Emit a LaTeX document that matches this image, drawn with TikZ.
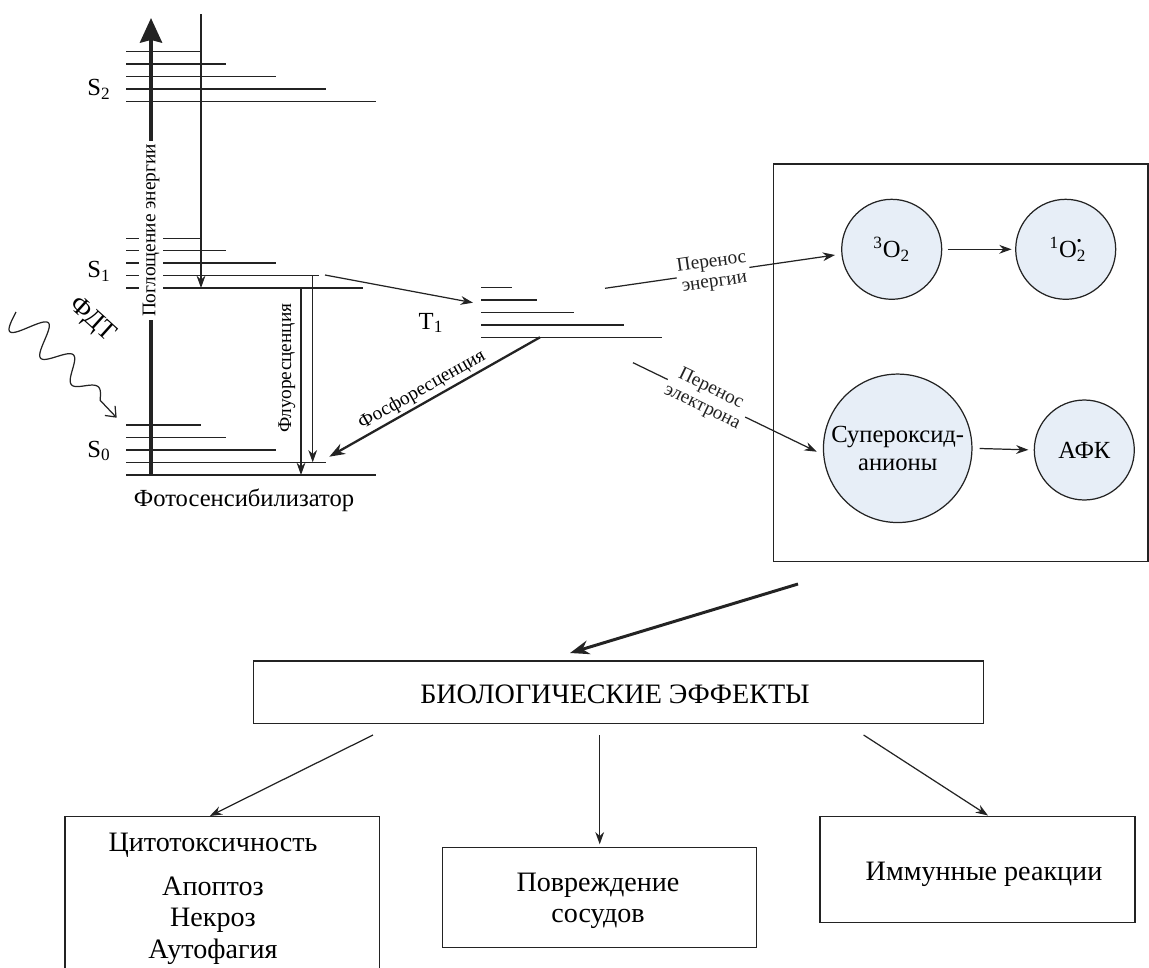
\documentclass[tikz,border=0pt]{standalone}
\usepackage{fontspec}
\setmainfont{Liberation Serif}
\usetikzlibrary{arrows.meta,calc}
\definecolor{circfill}{RGB}{231,238,247}
\definecolor{ln}{RGB}{35,35,35}
\begin{document}
\begin{tikzpicture}[x=0.02cm,y=-0.02cm,
  lvl/.style={ln, line width=0.8pt},
  conn/.style={ln, line width=0.7pt, -{Stealth[length=7pt,width=5pt]}},
  thickconn/.style={ln, line width=1.3pt, -{Stealth[length=9pt,width=6.5pt]}},
  bigconn/.style={ln, line width=1.7pt, -{Stealth[length=11pt,width=8pt]}},
  circ/.style={circle, draw=ln, line width=0.7pt, fill=circfill, inner sep=0pt, align=center, font=\fontsize{14}{16}\selectfont},
  smalllbl/.style={font=\fontsize{11}{11.5}\selectfont, align=center, inner sep=1pt},
  mainlbl/.style={font=\fontsize{14}{16}\selectfont, inner sep=0pt},
  boxtxt/.style={font=\fontsize{16}{19}\selectfont, inner sep=0pt, anchor=base},
  rbox/.style={draw=ln, line width=0.8pt, anchor=north west, inner sep=0pt, outer sep=0pt}
]
\useasboundingbox (0,0) rectangle (1149,967);

% ---------- energy levels ----------
\foreach \y/\e in {51.7/201, 64/226, 76.7/276, 89/326, 101.3/375.7}
  \draw[lvl] (126,\y) -- (\e,\y);
\foreach \y/\e in {238.3/201, 250.7/226, 263/276, 275.7/319, 288/362.7}
  \draw[lvl] (126,\y) -- (\e,\y);
\foreach \y/\e in {425/201, 437.3/226, 450/276, 462.3/326, 475/375.7}
  \draw[lvl] (126,\y) -- (\e,\y);
\foreach \y/\e in {287.7/512.3, 300/536.7, 312.7/574.3, 325/624.3, 337.3/661.7}
  \draw[lvl] (481,\y) -- (\e,\y);

% thick energy axis
\draw[ln, line width=2.3pt, -{Stealth[length=14pt,width=12.5pt,inset=1.5pt]}] (151,476) -- (151,18);
\node[smalllbl, rotate=90, fill=white, inner xsep=2pt, inner ysep=1.8pt] (absorb) at (151,230.5) {Поглощение энергии};

% level labels
\node[mainlbl] (s2) at (99,89) {S\textsubscript{2}};
\node[mainlbl] (s1) at (99,271) {S\textsubscript{1}};
\node[mainlbl] (s0) at (99,451) {S\textsubscript{0}};
\node[mainlbl] (t1) at (431,323) {T\textsubscript{1}};
\node[mainlbl] (ps) at (244,500) {Фотосенсибилизатор};

% internal conversion S2 -> S1
\coordinate (icTop) at (201,14);
\coordinate (icBot) at (201,288);
\draw[conn] (icTop) -- (icBot);

% fluorescence
\coordinate (fl1a) at (312.7,275.7);
\coordinate (fl1b) at (312.7,462.3);
\coordinate (fl2a) at (301,288);
\coordinate (fl2b) at (301,475);
\draw[conn] (fl1a) -- (fl1b);
\draw[conn] (fl2a) -- (fl2b);
\node[smalllbl, rotate=90] (fluo) at (287,368) {Флуоресценция};

% intersystem crossing S1 -> T1
\coordinate (iscA) at (325,275);
\coordinate (iscB) at (473,302.7);
\draw[conn] (iscA) -- (iscB);

% phosphorescence
\coordinate (phA) at (540,337.3);
\coordinate (phB) at (329.3,456.7);
\draw[thickconn] (phA) -- (phB);
\node[smalllbl, rotate=29.5] (phos) at (422,390) {Фосфоресценция};

% light (PDT) wave
\begin{scope}[shift={(16,312)}, rotate=-46.4]
  \draw[ln, line width=0.7pt, -{Straight Barb[length=5pt,width=8pt]}]
    plot[domain=0:1, samples=160, smooth] ({122*\x},{(19-12*\x)*sin(3*360*\x)}) -- (146,0);
\end{scope}
\node[mainlbl, rotate=-42, font=\fontsize{15}{16}\selectfont] (pdt) at (92,320) {ФДТ};

% ---------- ROS box ----------
\node[rbox, minimum width=7.494cm, minimum height=7.954cm] (rosbox) at (773.3,164) {};
\node[circ, minimum size=2cm] (o3) at (891.7,249.3) {\textsuperscript{3}O\textsubscript{2}};
\node[circ, minimum size=2cm] (o1) at (1065.7,249.3) {\textsuperscript{1}O\rlap{\textsubscript{2}}\raisebox{1.05ex}{\scalebox{0.55}{\textbullet}}};
\node[circ, minimum size=2.97cm] (sup) at (897.7,448.3) {Супероксид-\\анионы};
\node[circ, minimum size=2cm] (afk) at (1084.3,450) {АФК};

\draw[conn, shorten <=3pt, shorten >=2pt] (o3) -- (o1);
\draw[conn, shorten <=4pt, shorten >=3pt] (sup.east) -- (afk.west);

\coordinate (enA) at (605,288.3);
\coordinate (enB) at (835,255);
\draw[conn] (enA) -- node[smalllbl, fill=white, sloped, pos=0.47] (entr) {Перенос\\энергии} (enB);
\coordinate (elA) at (633,362.7);
\coordinate (elB) at (816.7,451.7);
\draw[conn] (elA) -- node[smalllbl, fill=white, sloped, pos=0.4] (eltr) {Перенос\\электрона} (elB);

% ---------- biological effects ----------
\node[rbox, minimum width=14.604cm, minimum height=1.246cm] (bio) at (253.5,661) {};
\node[boxtxt] (biotxt) at (615,703) {БИОЛОГИЧЕСКИЕ ЭФФЕКТЫ};

\coordinate (bigA) at (798,584);
\coordinate (bigB) at (570,653);
\draw[bigconn] (bigA) -- (bigB);

\node[rbox, minimum width=6.286cm, minimum height=3.3cm] (cyto) at (65.2,816.7) {};
\node[rbox, minimum width=6.286cm, minimum height=1.992cm] (vess) at (442.5,847.7) {};
\node[rbox, minimum width=6.302cm, minimum height=2.112cm] (imm) at (819.9,816.7) {};

\node[boxtxt] (c1) at (213,851) {Цитотоксичность};
\node[boxtxt] (c2) at (213,895) {Апоптоз};
\node[boxtxt] (c3) at (213,926.5) {Некроз};
\node[boxtxt] (c4) at (213,958) {Аутофагия};
\node[boxtxt] (v1) at (598,891) {Повреждение};
\node[boxtxt] (v2) at (598,922) {сосудов};
\node[boxtxt] (i1) at (984,880) {Иммунные реакции};

\coordinate (b1) at (373,735);
\coordinate (b2) at (599.7,735);
\coordinate (b3) at (863.6,735);
\draw[conn] (b1) -- (209.8,816);
\draw[conn] (b2) -- (599.7,844.3);
\draw[conn] (b3) -- (988,815.5);
\end{tikzpicture}
\end{document}
